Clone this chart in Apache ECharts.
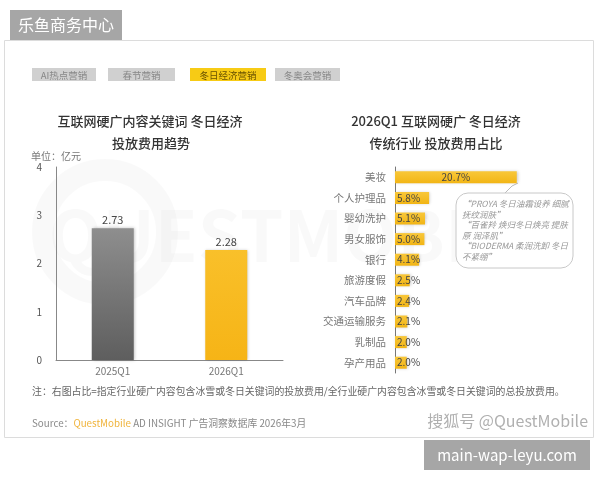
<!DOCTYPE html>
<html>
<head>
<meta charset="utf-8">
<script src="https://cdn.jsdelivr.net/npm/echarts@6/dist/echarts.min.js"></script>
<style>
  html, body { margin: 0; padding: 0; background: #fff; }
  #main { width: 600px; height: 480px; }
</style>
</head>
<body>
<div id="main"></div>
<script>
// 左图 投放费用趋势（亿元）
var quarters = ['2025Q1', '2026Q1'];
var spend = [2.73, 2.28];
var spendTicks = [0, 1, 2, 3, 4];

// 右图 行业占比（%）
var industries = ['美妆', '个人护理品', '婴幼洗护', '男女服饰', '银行', '旅游度假', '汽车品牌', '交通运输服务', '乳制品', '孕产用品'];
var shares = [20.7, 5.8, 5.1, 5.0, 4.1, 2.5, 2.4, 2.1, 2.0, 2.0];

var tabs = ['AI热点营销', '春节营销', '冬日经济营销', '冬奥会营销'];
var quotes = [
    '“PROYA 冬日油霜设养 细腻',
    '抚纹润肤”',
    '“百雀羚 焕归冬日焕亮 提肤',
    '原 润泽肌”',
    '“BIODERMA 柔润洗卸 冬日',
    '不紧绷”'
];

var font = '"Noto Sans CJK SC", sans-serif';
var myChart = echarts.init(document.getElementById('main'));

var shareData = [];
for (var i = 0; i < shares.length; i++) {
    var item = { value: shares[i] };
    if (i == 0) {
        item.label = { position: 'inside' };
    }
    shareData.push(item);
}

var graphics = [
    // 水印
    { type: 'text', x: 300, y: 235, z: -1, style: { text: 'QUESTMOBILE', fill: 'rgba(0,0,0,0.025)', font: 'bold 70px ' + font, textAlign: 'center', textVerticalAlign: 'middle' } },
    { type: 'circle', shape: { cx: 105, cy: 232, r: 62 }, z: -1, style: { fill: 'none', stroke: 'rgba(0,0,0,0.025)', lineWidth: 22 } },
    // 顶部标签
    { type: 'rect', shape: { x: 10, y: 10, width: 112, height: 30 }, style: { fill: '#a6a6a6' } },
    { type: 'text', x: 18, y: 25, style: { text: '乐鱼商务中心', fill: '#fff', font: '16px ' + font, textVerticalAlign: 'middle' } },
    // 卡片边框
    { type: 'rect', shape: { x: 4.5, y: 40.5, width: 589, height: 397 }, style: { fill: 'none', stroke: '#dcdcdc', lineWidth: 1 } },
    // 底部网址
    { type: 'rect', shape: { x: 424, y: 440, width: 166, height: 30 }, style: { fill: '#a6a6a6' } },
    { type: 'text', x: 507, y: 455, style: { text: 'main-wap-leyu.com', fill: '#fff', font: '15px ' + font, textAlign: 'center', textVerticalAlign: 'middle' } },
    // 标题
    { type: 'text', x: 150, y: 121, style: { text: '互联网硬广内容关键词 冬日经济', fill: '#333', font: '500 13px ' + font, textAlign: 'center', textVerticalAlign: 'middle' } },
    { type: 'text', x: 151, y: 143, style: { text: '投放费用趋势', fill: '#333', font: '500 13px ' + font, textAlign: 'center', textVerticalAlign: 'middle' } },
    { type: 'text', x: 436, y: 121, style: { text: '2026Q1 互联网硬广 冬日经济', fill: '#333', font: '500 13px ' + font, textAlign: 'center', textVerticalAlign: 'middle' } },
    { type: 'text', x: 436, y: 143, style: { text: '传统行业 投放费用占比', fill: '#333', font: '500 13px ' + font, textAlign: 'center', textVerticalAlign: 'middle' } },
    { type: 'text', x: 31, y: 156, style: { text: '单位：亿元', fill: '#777', font: '10px ' + font, textVerticalAlign: 'middle' } },
    // 注释
    { type: 'text', x: 32, y: 391, style: { text: '注：右图占比=指定行业硬广内容包含冰雪或冬日关键词的投放费用/全行业硬广内容包含冰雪或冬日关键词的总投放费用。', fill: '#666', font: '9.9px ' + font, textVerticalAlign: 'middle' } },
    { type: 'text', x: 32, y: 423, style: { rich: { a: { fill: '#888', font: '9.8px ' + font }, b: { fill: '#f0b43c', font: '9.8px ' + font } }, text: '{a|Source：}{b|QuestMobile}{a| AD INSIGHT 广告洞察数据库 2026年3月}', textVerticalAlign: 'middle' } },
    { type: 'text', x: 588, y: 421, style: { text: '搜狐号 @QuestMobile', fill: '#b0b0b0', font: '16px ' + font, textAlign: 'right', textVerticalAlign: 'middle' } },
    // 气泡
    { type: 'polyline', shape: { points: [[505, 193], [512, 186], [518, 183]] }, style: { stroke: '#bbb', lineWidth: 1, fill: 'none' } },
    { type: 'rect', shape: { x: 456, y: 193, width: 117, height: 75, r: 12 }, style: { fill: '#fff', stroke: '#c8c8c8', lineWidth: 1 } }
];

var tabX = [32, 108, 190, 275];
var tabW = [64, 67, 76, 65];
for (var t = 0; t < tabs.length; t++) {
    graphics.push({ type: 'rect', shape: { x: tabX[t], y: 68, width: tabW[t], height: 13 }, style: { fill: t == 2 ? '#f7cb15' : '#d0d0d0' } });
    graphics.push({ type: 'text', x: tabX[t] + tabW[t] / 2, y: 75, style: { text: tabs[t], fill: t == 2 ? '#6a5200' : '#888', font: '9.5px ' + font, textAlign: 'center', textVerticalAlign: 'middle' } });
}
for (var q = 0; q < quotes.length; q++) {
    graphics.push({ type: 'text', x: 462, y: 204 + q * 10.5, style: { text: quotes[q], fill: '#999', font: 'italic 8.5px ' + font, textVerticalAlign: 'middle' } });
}

var option = {
    animation: false,
    textStyle: { fontFamily: font },
    grid: [
        { left: 56, right: 317, top: 167, bottom: 120 },
        { left: 395, right: 5, top: 167, bottom: 107 }
    ],
    xAxis: [
        {
            gridIndex: 0,
            type: 'category',
            data: quarters,
            axisLine: { lineStyle: { color: '#888' } },
            axisTick: { show: false },
            axisLabel: { color: '#777', fontSize: 10, margin: 6 }
        },
        {
            gridIndex: 1,
            type: 'value',
            min: 0,
            max: 34,
            show: false
        }
    ],
    yAxis: [
        {
            gridIndex: 0,
            type: 'value',
            min: spendTicks[0],
            max: spendTicks[spendTicks.length - 1],
            interval: 1,
            splitLine: { show: false },
            axisLine: { show: true, lineStyle: { color: '#888' } },
            axisTick: { show: false },
            axisLabel: { color: '#555', fontSize: 10, margin: 14 }
        },
        {
            gridIndex: 1,
            type: 'category',
            inverse: true,
            data: industries,
            axisLine: { show: true, lineStyle: { color: '#777' } },
            axisTick: { show: false },
            axisLabel: { color: '#777', fontSize: 10.5, margin: 9 }
        }
    ],
    series: [
        {
            type: 'bar',
            xAxisIndex: 0,
            yAxisIndex: 0,
            barWidth: 42,
            data: [
                {
                    value: spend[0],
                    itemStyle: {
                        color: new echarts.graphic.LinearGradient(0, 0, 0, 1, [
                            { offset: 0, color: '#8e8e8e' },
                            { offset: 1, color: '#5e5e5e' }
                        ])
                    }
                },
                {
                    value: spend[1],
                    itemStyle: {
                        color: new echarts.graphic.LinearGradient(0, 0, 0, 1, [
                            { offset: 0, color: '#f9c02a' },
                            { offset: 1, color: '#f6b416' }
                        ])
                    }
                }
            ],
            itemStyle: { shadowBlur: 3, shadowColor: 'rgba(0,0,0,0.25)', shadowOffsetX: 1 },
            label: { show: true, position: 'top', color: '#444', fontSize: 11, distance: 3 }
        },
        {
            type: 'bar',
            xAxisIndex: 1,
            yAxisIndex: 1,
            barWidth: 12,
            data: shareData,
            itemStyle: {
                color: new echarts.graphic.LinearGradient(0, 0, 0, 1, [
                    { offset: 0, color: '#f8c73a' },
                    { offset: 1, color: '#f2b515' }
                ]),
                shadowBlur: 3,
                shadowColor: 'rgba(0,0,0,0.2)',
                shadowOffsetX: 1
            },
            label: {
                show: true,
                position: 'insideLeft',
                distance: 2,
                color: '#444',
                fontSize: 10,
                formatter: function (p) {
                    return p.value.toFixed(1) + '%';
                }
            }
        }
    ],
    graphic: graphics
};

myChart.setOption(option);
</script>
</body>
</html>
